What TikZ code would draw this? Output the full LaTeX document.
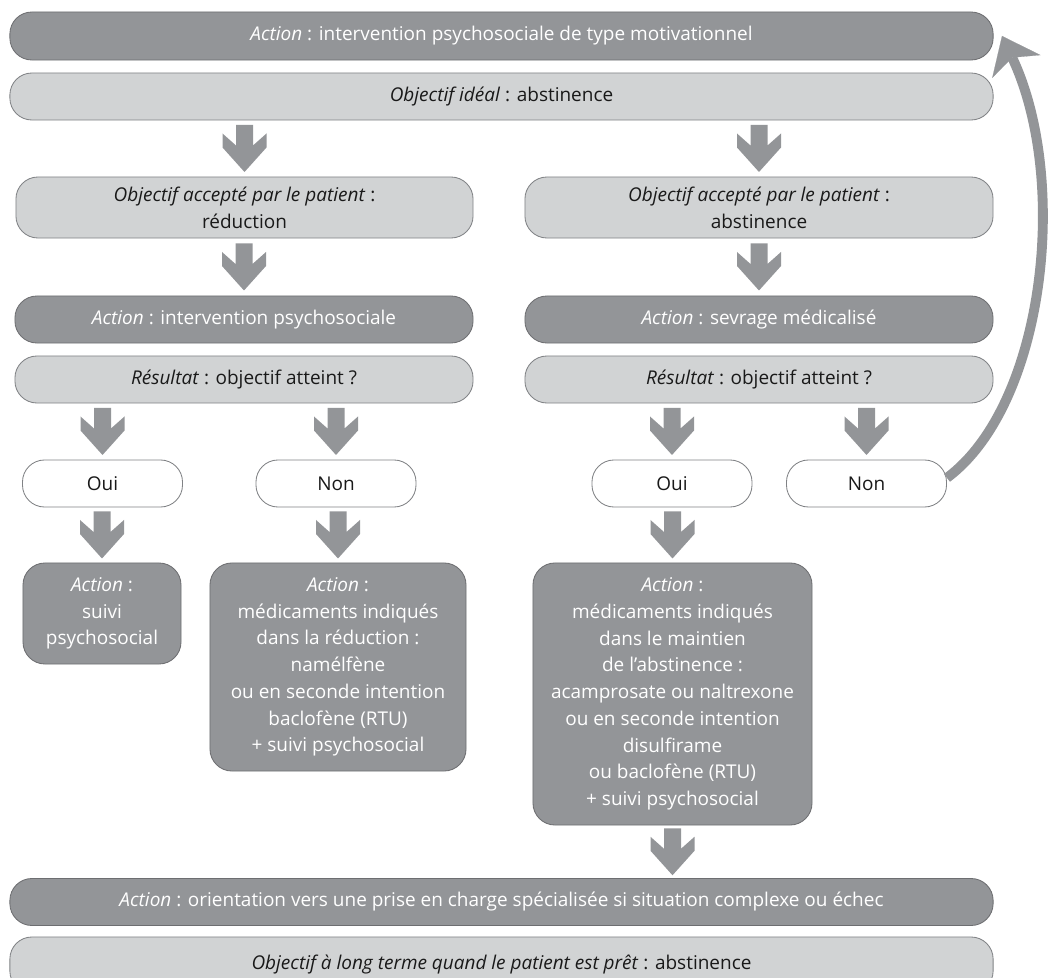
\documentclass[tikz,border=0pt]{standalone}
\usepackage{fontspec}
\setmainfont{Open Sans}
\usetikzlibrary{calc,arrows.meta}

\definecolor{darkbox}{HTML}{939598}
\definecolor{darkline}{HTML}{6D6E71}
\definecolor{lightbox}{HTML}{D1D3D4}
\definecolor{lightline}{HTML}{808285}
\definecolor{arrowgray}{HTML}{939598}

\tikzset{
  box/.style={rectangle,rounded corners=0.55cm,align=center,line width=0.6pt,
    inner sep=2pt,font=\fontsize{13.5}{19}\selectfont},
  actionbox/.style={box,fill=darkbox,draw=darkline,text=white},
  goalbox/.style={box,fill=lightbox,draw=lightline,text=black!90},
  answerbox/.style={box,fill=white,draw=lightline,text=black!90},
  downarrow/.pic={
    \fill[arrowgray] (-8.5,-23.5) -- (8.5,-23.5) -- (8.5,-3) -- (22,-15) -- (22,-1)
      -- (0,23.5) -- (-22,-1) -- (-22,-15) -- (-8.5,-3) -- cycle;
  }
}

\newcommand{\flowarrow}[2]{\pic at ($(#1.south -| #2.north)!.5!(#2.north)$) {downarrow};}

\begin{document}
\begin{tikzpicture}[x=0.025cm,y=-0.025cm]

  \clip (0,0) rectangle (1048,978);

  % top of the chart
  \node[actionbox,minimum width=24.575cm,minimum height=1.2cm] (actTop) at (501.5,36)
    {\textit{Action} : intervention psychosociale de type motivationnel};
  \node[goalbox,minimum width=24.575cm,minimum height=1.175cm] (objIdeal) at (501.5,96.5)
    {\textit{Objectif idéal} : abstinence};

  % two branches
  \begin{scope}[every node/.append style={minimum height=1.175cm}]
    \node[goalbox,minimum width=11.425cm,minimum height=1.525cm] (objRed) at (244.5,207.5)
      {\textit{Objectif accepté par le patient} :\\réduction};
    \node[goalbox,minimum width=11.7cm,minimum height=1.525cm] (objAbs) at (759,207.5)
      {\textit{Objectif accepté par le patient} :\\abstinence};
    \node[actionbox,minimum width=11.45cm] (actPsy) at (244,319.5)
      {\textit{Action} : intervention psychosociale};
    \node[actionbox,minimum width=11.7cm] (actSev) at (759,319.5)
      {\textit{Action} : sevrage médicalisé};
    \node[goalbox,minimum width=11.45cm] (resRed) at (244,379.5)
      {\textit{Résultat} : objectif atteint ?};
    \node[goalbox,minimum width=11.7cm] (resAbs) at (759,379.5)
      {\textit{Résultat} : objectif atteint ?};

    \node[answerbox,minimum width=4cm] (ouiRed) at (102.5,483.5) {Oui};
    \node[answerbox,minimum width=4cm] (nonRed) at (336,483.5) {Non};
    \node[answerbox,minimum width=4cm] (ouiAbs) at (672,483.5) {Oui};
    \node[answerbox,minimum width=4cm] (nonAbs) at (866.5,483.5) {Non};
  \end{scope}

  % treatments
  \begin{scope}[every node/.append style={rounded corners=0.5cm}]
    \node[actionbox,minimum width=3.95cm,minimum height=2.525cm] (actSuivi) at (102,613.5)
      {\textit{Action} :\\suivi\\psychosocial};
    \node[actionbox,minimum width=6.4cm,minimum height=5.2cm] (actMedRed) at (338,667)
      {\textit{Action} :\\médicaments indiqués\\dans la réduction :\\namélfène\\
       ou en seconde intention\\baclofène (RTU)\\+ suivi psychosocial};
    \node[actionbox,minimum width=6.975cm,minimum height=6.55cm] (actMedAbs) at (672.5,694)
      {\textit{Action} :\\médicaments indiqués\\dans le maintien\\de l’abstinence :\\
       acamprosate ou naltrexone\\ou en seconde intention\\disulfirame\\
       ou baclofène (RTU)\\+ suivi psychosocial};
  \end{scope}

  % bottom of the chart
  \node[actionbox,minimum width=24.575cm,minimum height=1.175cm] (actOrient) at (501.5,902)
    {\textit{Action} : orientation vers une prise en charge spécialisée si situation complexe ou échec};
  \node[goalbox,minimum width=24.575cm,minimum height=1.4cm] (objLong) at (501.5,965)
    {\textit{Objectif à long terme quand le patient est prêt} : abstinence};

  % block arrows
  \flowarrow{objIdeal}{objRed}
  \flowarrow{objIdeal}{objAbs}
  \flowarrow{objRed}{actPsy}
  \flowarrow{objAbs}{actSev}
  \flowarrow{resRed}{ouiRed}
  \flowarrow{resRed}{nonRed}
  \flowarrow{resAbs}{ouiAbs}
  \flowarrow{resAbs}{nonAbs}
  \flowarrow{ouiRed}{actSuivi}
  \flowarrow{nonRed}{actMedRed}
  \flowarrow{ouiAbs}{actMedAbs}
  \pic at ($(actMedAbs.south)!.5!(actMedAbs.south |- actOrient.north)$) {downarrow};

  % back to the start
  \draw[arrowgray,line width=7pt,-{Stealth[length=24pt,width=38pt,inset=7pt,line width=0.1pt]}]
    ([yshift=4pt]nonAbs.east) .. controls (1045,405) and (1070,180) .. ([xshift=6pt]actTop.east);

\end{tikzpicture}
\end{document}
